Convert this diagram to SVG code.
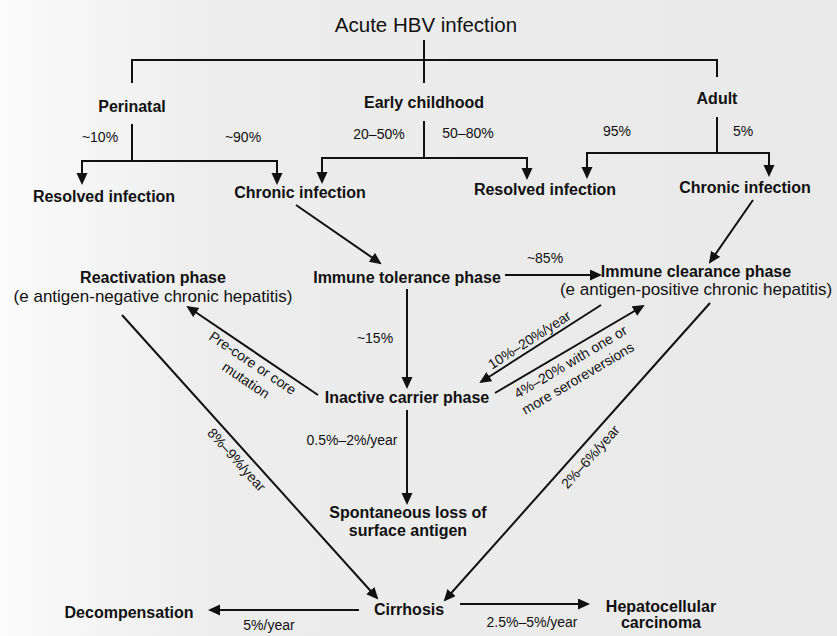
<svg xmlns="http://www.w3.org/2000/svg" width="837" height="636" viewBox="0 0 837 636">
<defs>
<linearGradient id="bg" x1="0" y1="0" x2="1" y2="0">
<stop offset="0" stop-color="#fbfbfb"/>
<stop offset="0.25" stop-color="#ededed"/>
<stop offset="1" stop-color="#e9e9e9"/>
</linearGradient>
<marker id="ah" markerUnits="userSpaceOnUse" markerWidth="14" markerHeight="12" refX="10" refY="5.5" orient="auto">
<path d="M0,0 L12,5.5 L0,11 z" fill="#111"/>
</marker>
<style>
text{font-family:"Liberation Sans",Arial,sans-serif;fill:#111;text-anchor:middle}
.b{font-weight:bold;font-size:16px}
.r{font-size:17px}
.s{font-size:14px}
.t{font-size:20.5px}
.c path{fill:none;stroke:#111;stroke-width:2}
.a{marker-end:url(#ah)}
</style>
</defs>
<rect width="837" height="636" fill="url(#bg)"/>
<g class="c" id="connectors">
<path d="M424,40 V83"/>
<path d="M132,83 V60 H717 V77"/>
<path d="M132,124 V161"/>
<path class="a" d="M132,161 H82 V183"/>
<path class="a" d="M132,161 H277 V183"/>
<path d="M424,121 V158"/>
<path class="a" d="M424,158 H322 V182"/>
<path class="a" d="M424,158 H527 V178"/>
<path d="M717,117 V153"/>
<path class="a" d="M717,153 H587 V177"/>
<path class="a" d="M717,153 H769 V175"/>
<path class="a" d="M296,205 L380,263"/>
<path class="a" d="M753,200 L710,262"/>
<path class="a" d="M505,275 L600,275"/>
<path class="a" d="M407,289 L407,387"/>
<path class="a" d="M318,395 L188,307"/>
<path class="a" d="M601,305 L481,382"/>
<path class="a" d="M495,393 L643,306"/>
<path class="a" d="M407,410 L407,503"/>
<path class="a" d="M122,315 L377,598"/>
<path class="a" d="M710,303 L445,600"/>
<path class="a" d="M359,610 L210,610"/>
<path class="a" d="M460,604 L588,604"/>
</g>
<g id="labels">
<text class="s" x="100" y="142">~10%</text>
<text class="s" x="243" y="142">~90%</text>
<text class="s" x="379" y="139">20–50%</text>
<text class="s" x="468" y="138">50–80%</text>
<text class="s" x="617" y="136">95%</text>
<text class="s" x="743" y="136">5%</text>
<text class="s" x="545" y="263">~85%</text>
<text class="s" x="375" y="343">~15%</text>
<text class="s" x="352" y="445">0.5%–2%/year</text>
<text class="s" x="269" y="630">5%/year</text>
<text class="s" x="532" y="627">2.5%–5%/year</text>
<g transform="translate(250,367) rotate(34)"><text class="s" x="0" y="0">Pre-core or core</text><text class="s" x="4" y="18">mutation</text></g>
<g transform="translate(532,344) rotate(-32.7)"><text class="s" x="0" y="0">10%–20%/year</text></g>
<g transform="translate(573,366) rotate(-30.7)"><text class="s" x="0" y="0">4%–20% with one or</text><text class="s" x="-2" y="18">more seroreversions</text></g>
<g transform="translate(233,463) rotate(48)"><text class="s" x="0" y="0">8%–9%/year</text></g>
<g transform="translate(594,460) rotate(-48.2)"><text class="s" x="0" y="0">2%–6%/year</text></g>
</g>
<g id="acute"><text class="t" x="426" y="32">Acute HBV infection</text></g>
<g id="perinatal"><text class="b" x="132" y="112">Perinatal</text></g>
<g id="early"><text class="b" x="424" y="108">Early childhood</text></g>
<g id="adult"><text class="b" x="717" y="104">Adult</text></g>
<g id="resolved1"><text class="b" x="104" y="202">Resolved infection</text></g>
<g id="chronic1"><text class="b" x="300" y="198">Chronic infection</text></g>
<g id="resolved2"><text class="b" x="545" y="195">Resolved infection</text></g>
<g id="chronic2"><text class="b" x="745" y="193">Chronic infection</text></g>
<g id="reactivation"><text class="b" x="153" y="283">Reactivation phase</text><text class="r" x="153" y="302">(e antigen-negative chronic hepatitis)</text></g>
<g id="tolerance"><text class="b" x="407" y="283">Immune tolerance phase</text></g>
<g id="clearance"><text class="b" x="696" y="277">Immune clearance phase</text><text class="r" x="696" y="295">(e antigen-positive chronic hepatitis)</text></g>
<g id="inactive"><text class="b" x="407" y="403">Inactive carrier phase</text></g>
<g id="loss"><text class="b" x="408" y="518">Spontaneous loss of</text><text class="b" x="408" y="536">surface antigen</text></g>
<g id="cirrhosis"><text class="b" x="409" y="615">Cirrhosis</text></g>
<g id="decomp"><text class="b" x="129" y="618">Decompensation</text></g>
<g id="hcc"><text class="b" x="661" y="612">Hepatocellular</text><text class="b" x="661" y="628">carcinoma</text></g>
</svg>
